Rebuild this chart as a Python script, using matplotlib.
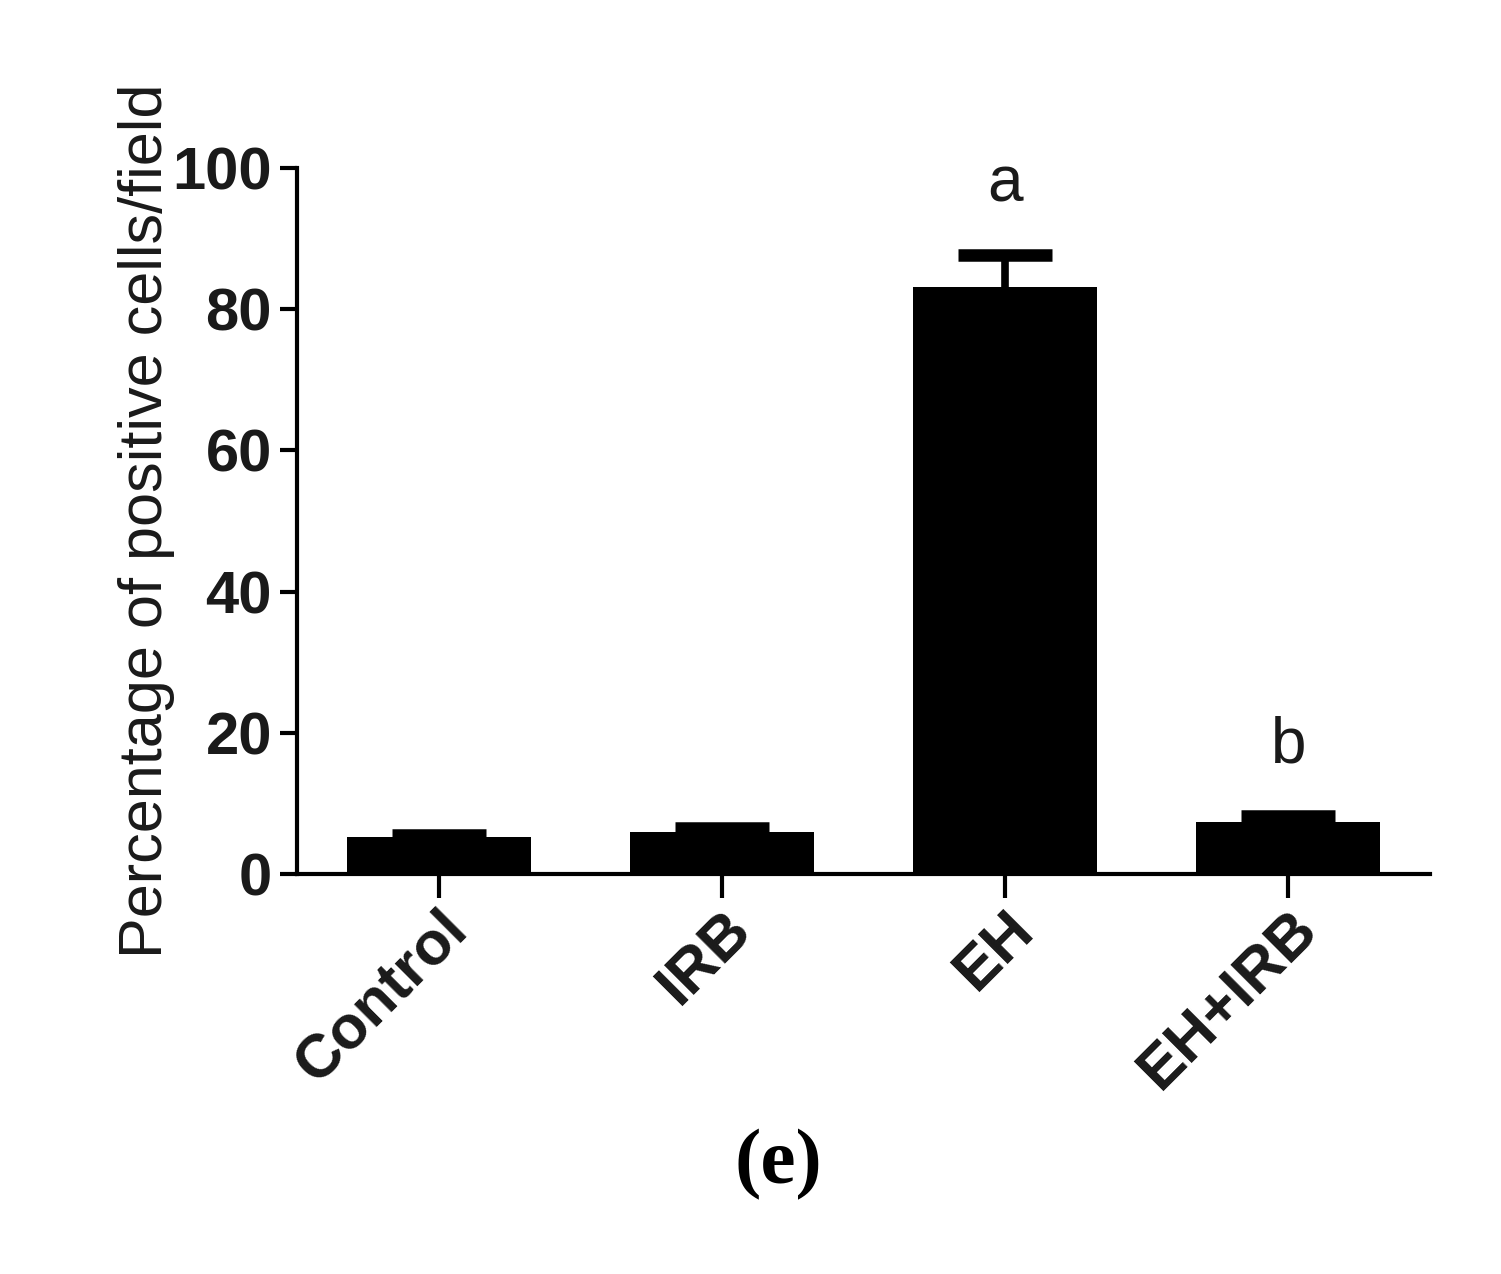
import numpy as np
import matplotlib.pyplot as plt

# Data
groups = ['Control', 'IRB', 'EH', 'EH+IRB']
means = [5.2, 6.0, 83.2, 7.4]
sem = [0.3, 0.5, 4.5, 0.85]
letters = ['', '', 'a', 'b']

plt.rcParams['font.family'] = ['Liberation Sans', 'DejaVu Sans']

fig = plt.figure(figsize=(15.01, 12.74), dpi=100)
ax = fig.add_axes([297 / 1501, 1 - 874 / 1274, (1430 - 297) / 1501, (874 - 168) / 1274])

x = np.arange(len(groups))
ax.bar(x, means, width=0.65, color='black', zorder=2)
eb = ax.errorbar(x, means, yerr=[np.zeros(len(sem)), sem], fmt='none', ecolor='black',
                 elinewidth=5.5, capsize=33.5, capthick=9, zorder=1)
# only the upper cap is drawn (one-sided SEM)
eb[1][0].set_visible(False)

# significance letters above the error bars
for xi, m, s, lab in zip(x, means, sem, letters):
    if lab:
        ax.text(xi, m + s + 7.6, lab, ha='center', va='baseline', fontsize=46,
                color='#1a1a1a')

ax.set_xlim(-0.5, 3.5)
ax.set_ylim(0, 100)
ax.set_yticks([0, 20, 40, 60, 80, 100])
ax.set_xticks(x)
ax.set_xticklabels(groups, rotation=45, ha='right', rotation_mode='anchor',
                   fontsize=44, fontweight='bold', color='#1a1a1a')
for lbl in ax.get_yticklabels():
    lbl.set_fontsize(43)
    lbl.set_fontweight('bold')
    lbl.set_color('#1a1a1a')

ax.spines['top'].set_visible(False)
ax.spines['right'].set_visible(False)
ax.spines['left'].set_linewidth(3)
ax.spines['bottom'].set_linewidth(3)
ax.tick_params(axis='y', length=12, width=3, pad=6)
ax.tick_params(axis='x', length=17, width=3, pad=2)

ax.set_ylabel('Percentage of positive cells/field', fontsize=44, color='#1a1a1a')
ax.yaxis.set_label_coords(-0.108, 0.5)

fig.text(778 / 1501, 1 - 1165 / 1274, '(e)', ha='center', va='center', fontsize=57,
         family='Liberation Serif', fontweight='bold')

plt.savefig('out.png', dpi=100)
plt.close()
